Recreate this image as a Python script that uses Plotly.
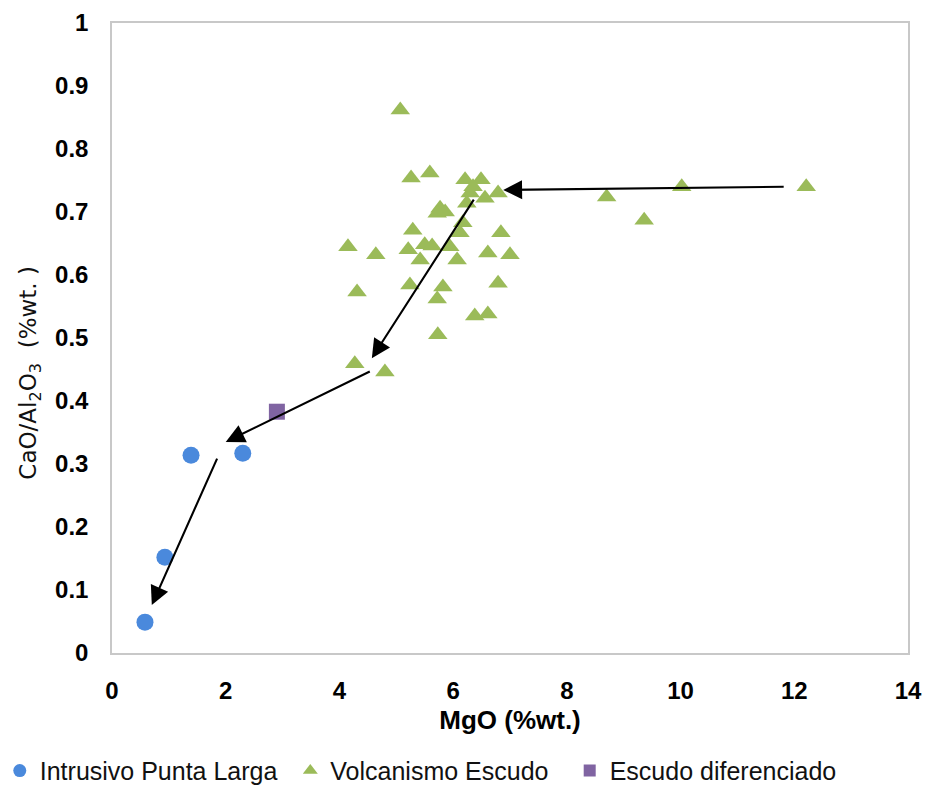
import plotly.graph_objects as go

# Intrusivo Punta Larga
ipl_x = [0.58, 0.93, 1.39, 2.30]
ipl_y = [0.049, 0.152, 0.314, 0.317]

# Escudo diferenciado
ed_x = [2.90]
ed_y = [0.383]

# Volcanismo Escudo
ve_x = [5.07, 5.26, 5.59, 6.21, 6.49, 6.79, 6.56, 6.30, 6.24, 5.77, 5.86, 5.72,
        5.29, 6.17, 6.84, 4.15, 4.64, 5.21, 5.50, 5.63, 5.42, 5.94, 6.12, 6.07,
        6.61, 7.00, 4.31, 5.24, 5.82, 5.72, 6.79, 6.38, 6.61, 5.73, 4.27, 4.80,
        8.70, 9.36, 10.02, 12.21, 6.35]
ve_y = [0.862, 0.754, 0.762, 0.751, 0.751, 0.730, 0.722, 0.730, 0.714, 0.706, 0.700, 0.698,
        0.671, 0.683, 0.667, 0.645, 0.632, 0.640, 0.648, 0.646, 0.624, 0.645, 0.667, 0.624,
        0.635, 0.632, 0.573, 0.584, 0.581, 0.562, 0.587, 0.535, 0.538, 0.505, 0.459, 0.446,
        0.724, 0.687, 0.740, 0.740, 0.740]

# Arrows (tail -> head) in data units
arrow_tail_x = [11.84, 6.38, 4.56, 1.86]
arrow_tail_y = [0.740, 0.722, 0.448, 0.311]
arrow_head_x = [6.88, 4.57, 2.00, 0.70]
arrow_head_y = [0.735, 0.468, 0.335, 0.076]

x_ticks = [0, 2, 4, 6, 8, 10, 12, 14]
y_ticks = [0, 0.1, 0.2, 0.3, 0.4, 0.5, 0.6, 0.7, 0.8, 0.9, 1]

BLUE = "#4a89dc"
GREEN = "#9bbb59"
PURPLE = "#8064a2"
FONT = "Liberation Sans, Arial, sans-serif"

fig = go.Figure()
fig.add_trace(go.Scatter(x=ve_x, y=ve_y, mode="markers", showlegend=False,
                         marker=dict(symbol="triangle-up", size=17, color=GREEN)))
fig.add_trace(go.Scatter(x=ipl_x, y=ipl_y, mode="markers", showlegend=False,
                         marker=dict(symbol="circle", size=17, color=BLUE)))
fig.add_trace(go.Scatter(x=ed_x, y=ed_y, mode="markers", showlegend=False,
                         marker=dict(symbol="square", size=16, color=PURPLE)))

# legend-only entries, one legend each so they can be placed like the original
fig.add_trace(go.Scatter(x=[None], y=[None], mode="markers", name="Intrusivo Punta Larga",
                         legend="legend",
                         marker=dict(symbol="circle", size=13, color=BLUE)))
fig.add_trace(go.Scatter(x=[None], y=[None], mode="markers", name="Volcanismo Escudo",
                         legend="legend2",
                         marker=dict(symbol="triangle-up", size=13, color=GREEN)))
fig.add_trace(go.Scatter(x=[None], y=[None], mode="markers", name="Escudo diferenciado",
                         legend="legend3",
                         marker=dict(symbol="square", size=12, color=PURPLE)))

for tx, ty, hx, hy in zip(arrow_tail_x, arrow_tail_y, arrow_head_x, arrow_head_y):
    fig.add_annotation(x=hx, y=hy, ax=tx, ay=ty, xref="x", yref="y", axref="x", ayref="y",
                       text="", showarrow=True, arrowhead=2, arrowsize=1.8, arrowwidth=2.1,
                       arrowcolor="black")

# y-axis title (placed as in the original, slightly below the axis middle)
fig.add_annotation(text="CaO/Al<sub>2</sub>O<sub>3</sub>  (%wt. )", textangle=-90,
                   xref="paper", yref="paper", x=-0.103, y=0.445,
                   xanchor="center", yanchor="middle", showarrow=False,
                   font=dict(size=23, family="DejaVu Sans, sans-serif", color="#111"))

leg_common = dict(orientation="h", yanchor="middle", y=-0.187, xanchor="left",
                  font=dict(size=25, family=FONT, color="#111"),
                  itemsizing="trace", itemwidth=30, bgcolor="rgba(0,0,0,0)")

fig.update_layout(
    width=926, height=785,
    margin=dict(l=112, r=18, t=23, b=132, autoexpand=False),
    plot_bgcolor="white", paper_bgcolor="white",
    font=dict(family=FONT, color="#000000"),
    showlegend=True,
    legend=dict(x=-0.141, **leg_common),
    legend2=dict(x=0.224, **leg_common),
    legend3=dict(x=0.575, **leg_common),
)
fig.update_xaxes(range=[0, 14], tickvals=x_ticks, showgrid=False, zeroline=False,
                 showline=True, linecolor="#c8c8c8", linewidth=1.5, mirror=True,
                 ticks="", ticklabelstandoff=15,
                 tickfont=dict(size=24, family=FONT, weight="bold"),
                 title=dict(text="MgO (%wt.)", font=dict(size=26, family=FONT, weight="bold"),
                            standoff=8))
fig.update_yaxes(range=[0, 1], tickvals=y_ticks, showgrid=False, zeroline=False,
                 showline=True, linecolor="#c8c8c8", linewidth=1.5, mirror=True,
                 ticks="", ticklabelstandoff=17,
                 tickfont=dict(size=24, family=FONT, weight="bold"))

fig.write_html("out.html")
